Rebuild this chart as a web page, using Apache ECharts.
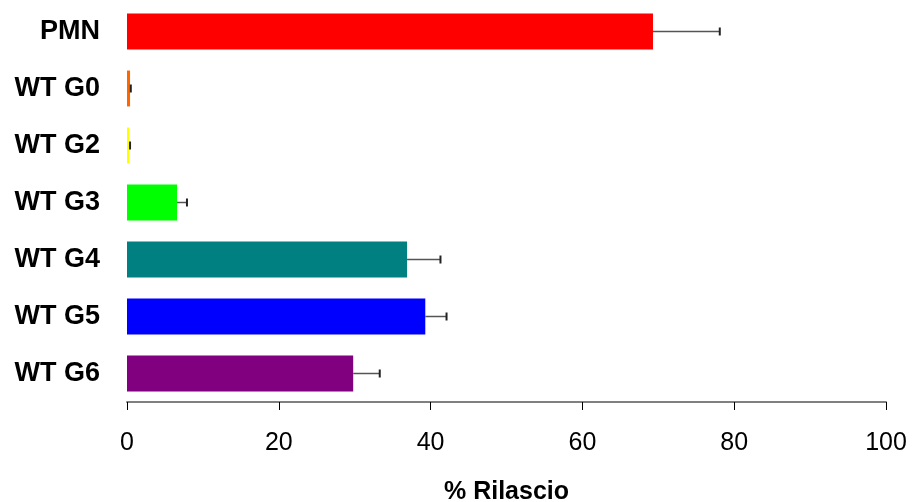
<!DOCTYPE html>
<html><head><meta charset="utf-8">
<script src="https://cdn.jsdelivr.net/npm/echarts@6/dist/echarts.min.js"></script>
<style>html,body{margin:0;padding:0;background:#fff}#c{width:913px;height:502px}</style>
</head><body><div id="c"></div>
<script>
const categories = ['PMN','WT G0','WT G2','WT G3','WT G4','WT G5','WT G6'];
const values = [69.3, 0.4, 0.3, 6.6, 36.9, 39.3, 29.8];
const errors = [8.8, 0.1, 0.1, 1.3, 4.4, 2.8, 3.5];
const colors = ['#ff0000','#ff6600','#ffff00','#00ff00','#008080','#0000ff','#800080'];
const xTicks = [0,20,40,60,80,100];

const chart = echarts.init(document.getElementById('c'));
chart.setOption({
  animation:false,
  grid:{left:127,right:27,top:3,bottom:100,containLabel:false,outerBoundsMode:'none'},
  xAxis:{type:'value',min:0,max:100,interval:20,
    name:'% Rilascio',nameLocation:'middle',nameGap:78,
    nameTextStyle:{fontFamily:'Liberation Sans',fontWeight:'bold',fontSize:25,color:'#000'},
    axisLine:{show:true,lineStyle:{color:'#808080',width:2}},
    axisTick:{show:true,length:8,inside:false,lineStyle:{color:'#000'}},
    axisLabel:{fontFamily:'Liberation Sans',fontSize:25,color:'#000',margin:29,
      formatter:v=>xTicks.includes(v)?String(v):''},
    splitLine:{show:false}},
  yAxis:{type:'category',data:categories,inverse:true,
    axisLine:{show:false},axisTick:{show:false},
    axisLabel:{fontFamily:'Liberation Sans',fontWeight:'bold',fontSize:27,color:'#000',margin:27}},
  series:[
    {type:'bar',barWidth:'63%',data:values.map((v,i)=>({value:v,itemStyle:{color:colors[i]}}))},
    {type:'custom',z:5,data:values.map((v,i)=>[i,v,v+errors[i]]),
     renderItem:(params,api)=>{
       const y=api.value(0), a=api.value(1), b=api.value(2);
       const p1=api.coord([a,y]), p2=api.coord([b,y]);
       const st={stroke:'#555',lineWidth:1.5};
       return {type:'group',children:[
         {type:'line',shape:{x1:p1[0],y1:p1[1],x2:p2[0],y2:p2[1]},style:st},
         {type:'line',shape:{x1:p2[0],y1:p2[1]-4,x2:p2[0],y2:p2[1]+4},style:{stroke:'#222',lineWidth:2}}
       ]};
     }}
  ]
});
</script></body></html>
